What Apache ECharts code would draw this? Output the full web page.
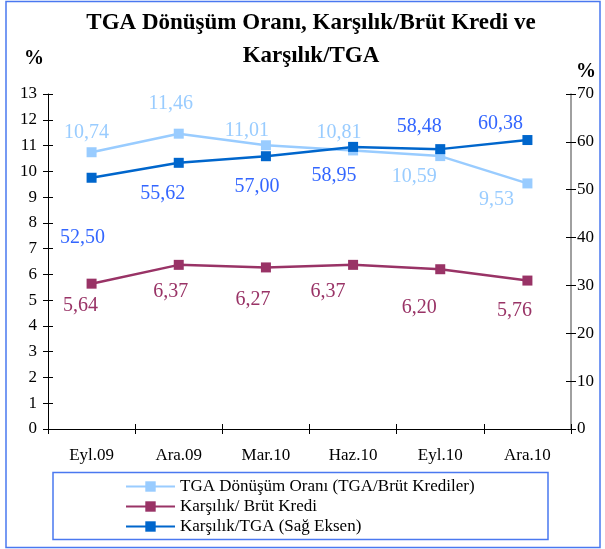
<!DOCTYPE html>
<html>
<head>
<meta charset="utf-8">
<script src="https://cdn.jsdelivr.net/npm/echarts@6/dist/echarts.min.js"></script>
<style>
  html, body { margin: 0; padding: 0; background: #ffffff; }
  #chart { width: 605px; height: 549px; }
</style>
</head>
<body>
<div id="chart"></div>
<script>
// Quarter labels
const categories = ['Eyl.09', 'Ara.09', 'Mar.10', 'Haz.10', 'Eyl.10', 'Ara.10'];

// Series values (%)
const tgaRate = [10.74, 11.46, 11.01, 10.81, 10.59, 9.53];      // TGA / Brüt Krediler
const provisionRatio = [5.64, 6.37, 6.27, 6.37, 6.20, 5.76];    // Karşılık / Brüt Kredi
const provisionCover = [52.50, 55.62, 57.00, 58.95, 58.48, 60.38]; // Karşılık / TGA (right axis)

// Series names
const seriesNames = [
  'TGA Dönüşüm Oranı (TGA/Brüt Krediler)',
  'Karşılık/ Brüt Kredi',
  'Karşılık/TGA (Sağ Eksen)'
];

// Axis ranges
const leftAxis = { min: 0, max: 13, step: 1 };
const rightAxis = { min: 0, max: 70, step: 10 };

// Label placement relative to each point (px)
const tgaLabelOffset = [[-5, -19], [-8, -30], [-19, -15], [-14, -18], [-26, 21], [-31, 16]];
const ratioLabelOffset = [[-11, 22], [-8, 27], [-13, 32], [-25, 27], [-21, 39], [-13, 30]];
const coverLabelOffset = [[-9, 60], [-16, 31], [-9, 31], [-19, 29], [-21, -22], [-27, -16]];

const serif = 'Liberation Serif';
const fmt = v => v.toFixed(2).replace('.', ',');

function points(values, offsets, color) {
  return values.map((v, i) => ({
    value: v,
    label: {
      show: true,
      position: 'inside',
      offset: offsets[i],
      formatter: () => fmt(v),
      color: color,
      fontFamily: serif,
      fontSize: 20,
      align: 'center',
      verticalAlign: 'middle'
    }
  }));
}

function lineSeries(name, values, offsets, color, labelColor, yAxisIndex) {
  return {
    name: name,
    type: 'line',
    xAxisIndex: 0,
    yAxisIndex: yAxisIndex,
    data: points(values, offsets, labelColor),
    symbol: 'rect',
    symbolSize: 10,
    lineStyle: { color: color, width: 2.5 },
    itemStyle: { color: color },
    emphasis: { disabled: true },
    animation: false
  };
}

const chart = echarts.init(document.getElementById('chart'), null, { renderer: 'canvas' });

const axisFont = { fontFamily: serif, fontSize: 17, color: '#000' };

chart.setOption({
  backgroundColor: '#ffffff',
  animation: false,
  grid: { left: 48, right: 34, top: 94, bottom: 120, containLabel: false },
  graphic: [
    { type: 'rect', shape: { x: 6, y: 1.5, width: 594, height: 546 },
      style: { fill: 'none', stroke: '#4a78f0', lineWidth: 1.5 }, z: -1 },
    { type: 'rect', shape: { x: 53, y: 472.5, width: 495, height: 67 },
      style: { fill: 'none', stroke: '#4a78f0', lineWidth: 1.5 }, z: -1 },
    { type: 'text', x: 311, y: 23,
      style: { text: 'TGA Dönüşüm Oranı, Karşılık/Brüt Kredi ve', fontFamily: serif, fontWeight: 'bold',
               fontSize: 23, fill: '#000', align: 'center', verticalAlign: 'middle' } },
    { type: 'text', x: 311, y: 56,
      style: { text: 'Karşılık/TGA', fontFamily: serif, fontWeight: 'bold',
               fontSize: 23, fill: '#000', align: 'center', verticalAlign: 'middle' } },
    { type: 'text', x: 34, y: 59,
      style: { text: '%', fontFamily: serif, fontWeight: 'bold', fontSize: 20, fill: '#000',
               align: 'center', verticalAlign: 'middle' } },
    { type: 'text', x: 586, y: 72,
      style: { text: '%', fontFamily: serif, fontWeight: 'bold', fontSize: 20, fill: '#000',
               align: 'center', verticalAlign: 'middle' } }
  ],
  legend: {
    orient: 'vertical',
    left: 125,
    top: 478,
    itemWidth: 49,
    itemHeight: 13,
    itemGap: 3,
    padding: 0,
    data: seriesNames,
    textStyle: { fontFamily: serif, fontSize: 17, color: '#000', padding: [0, 0, 0, 0] }
  },
  xAxis: [
    {
      type: 'category',
      data: categories,
      boundaryGap: true,
      axisLine: { lineStyle: { color: '#000', width: 1 } },
      axisTick: { show: true, inside: false, length: 5, lineStyle: { color: '#000' } },
      axisLabel: Object.assign({ margin: 18 }, axisFont),
      splitLine: { show: false }
    },
    {
      type: 'category',
      data: categories,
      position: 'bottom',
      boundaryGap: true,
      axisLine: { show: false },
      axisTick: { show: true, inside: true, length: 5, lineStyle: { color: '#000' } },
      axisLabel: { show: false },
      splitLine: { show: false }
    }
  ],
  yAxis: [
    {
      type: 'value', position: 'left',
      min: leftAxis.min, max: leftAxis.max, interval: leftAxis.step,
      axisLine: { show: true, lineStyle: { color: '#000', width: 1 } },
      axisTick: { show: true, length: 5, lineStyle: { color: '#000' } },
      axisLabel: Object.assign({ margin: 11 }, axisFont),
      splitLine: { show: false }
    },
    {
      type: 'value', position: 'right',
      min: rightAxis.min, max: rightAxis.max, interval: rightAxis.step,
      axisLine: { show: true, lineStyle: { color: '#808080', width: 1.5 } },
      axisTick: { show: true, length: 5, lineStyle: { color: '#000' } },
      axisLabel: Object.assign({ margin: 6 }, axisFont),
      splitLine: { show: false }
    },
    {
      type: 'value', position: 'left',
      min: leftAxis.min, max: leftAxis.max, interval: leftAxis.step,
      axisLine: { show: false },
      axisTick: { show: true, inside: true, length: 5, lineStyle: { color: '#000' } },
      axisLabel: { show: false },
      splitLine: { show: false }
    },
    {
      type: 'value', position: 'right',
      min: rightAxis.min, max: rightAxis.max, interval: rightAxis.step,
      axisLine: { show: false },
      axisTick: { show: true, inside: true, length: 5, lineStyle: { color: '#000' } },
      axisLabel: { show: false },
      splitLine: { show: false }
    }
  ],
  series: [
    lineSeries(seriesNames[0], tgaRate, tgaLabelOffset, '#99ccff', '#99ccff', 0),
    lineSeries(seriesNames[1], provisionRatio, ratioLabelOffset, '#993366', '#993366', 0),
    lineSeries(seriesNames[2], provisionCover, coverLabelOffset, '#0066cc', '#3366ff', 1)
  ]
});
</script>
</body>
</html>
